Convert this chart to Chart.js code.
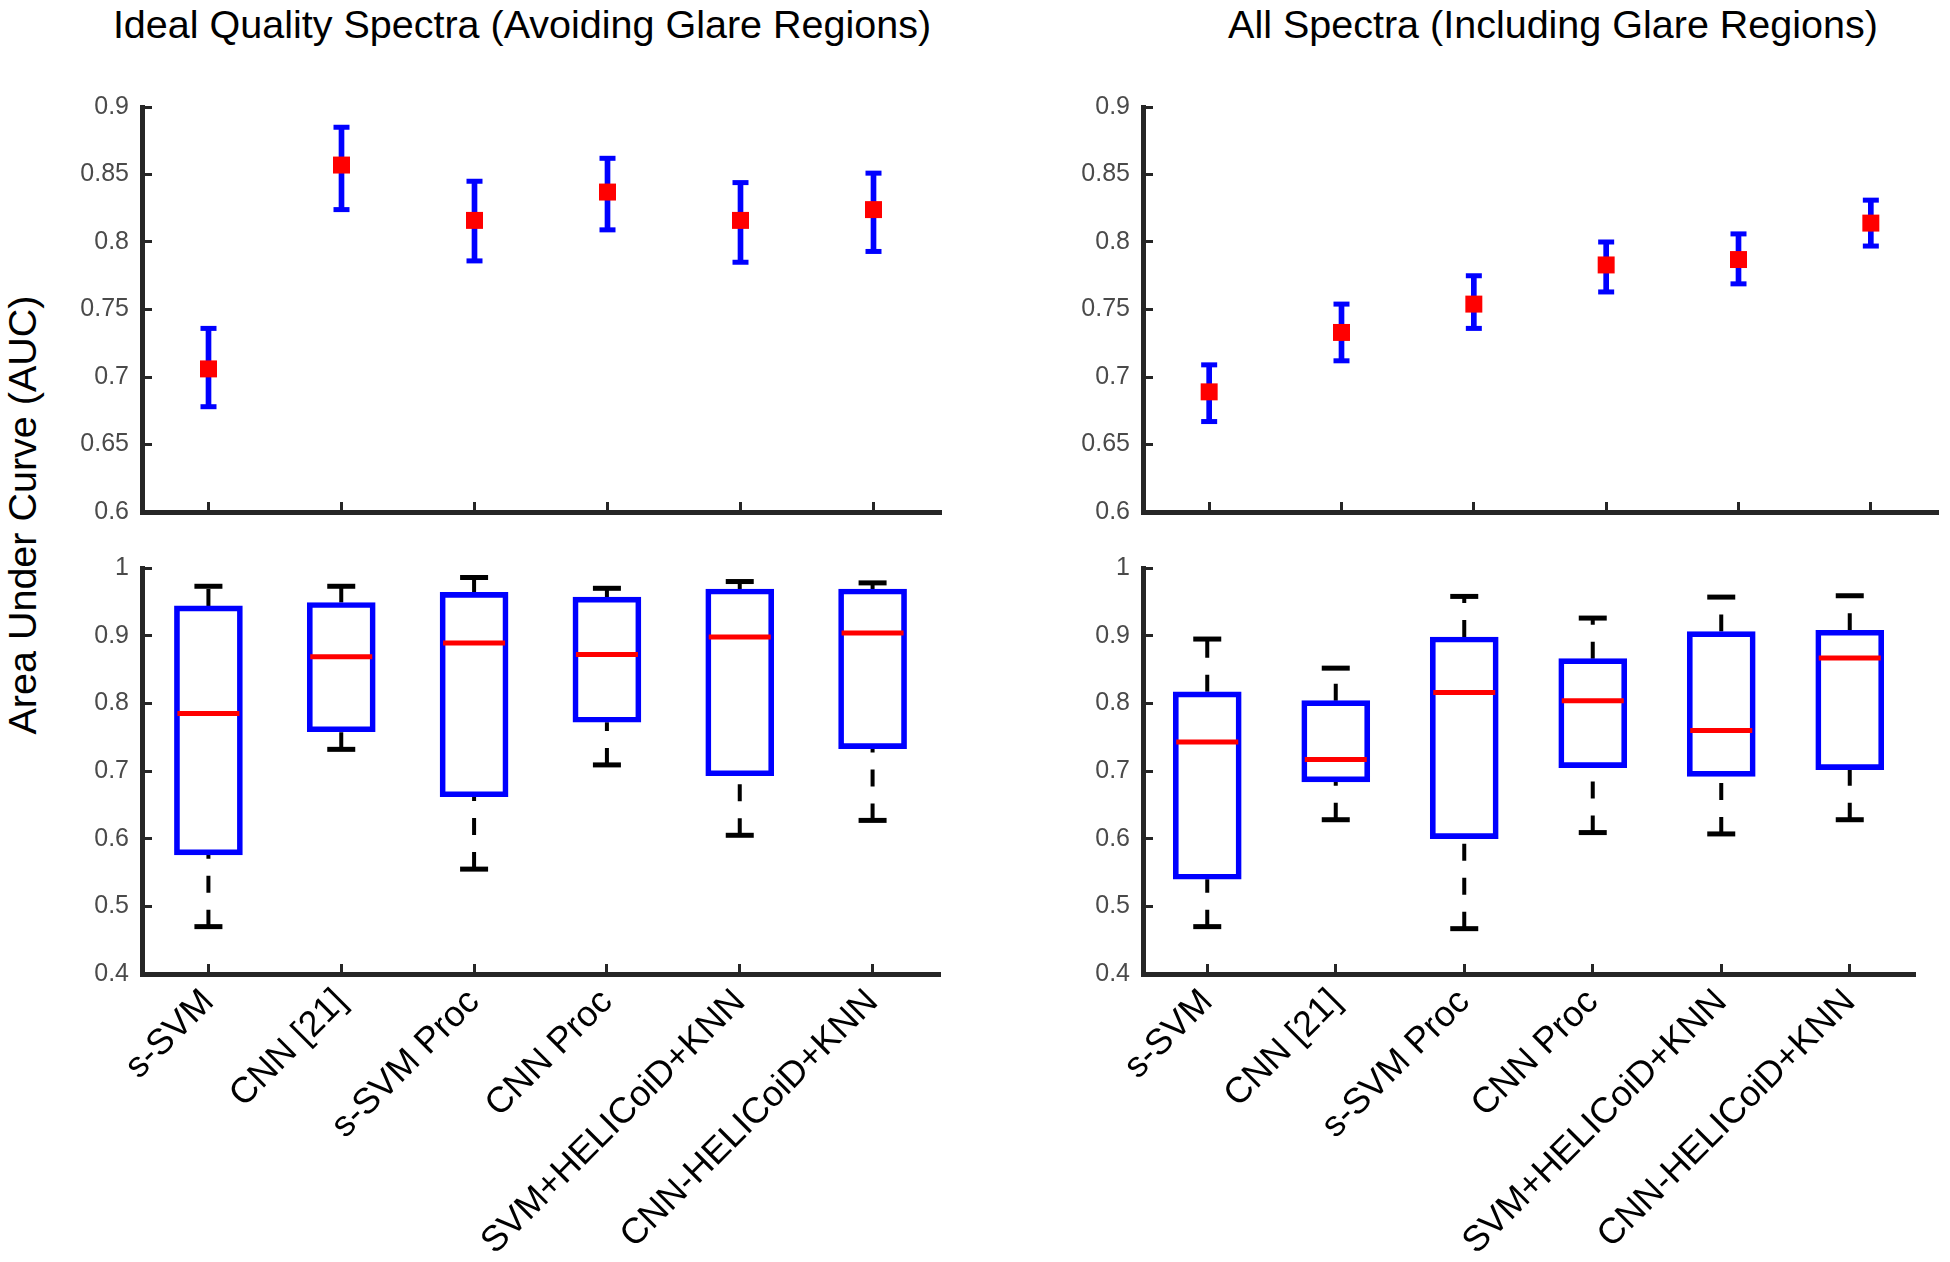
<!DOCTYPE html>
<html>
<head>
<meta charset="utf-8">
<script src="https://cdn.jsdelivr.net/npm/chart.js@4.4.1/dist/chart.umd.min.js"></script>
<style>
  html, body { margin: 0; padding: 0; background: #fff; }
  body { width: 1950px; height: 1262px; position: relative; overflow: hidden; font-family: 'Liberation Sans', Arial, sans-serif; }
  canvas { position: absolute; }
  .title { position: absolute; top: 5px; font-size: 39.5px; line-height: 1; color: #000; white-space: nowrap; transform: translateX(-50%); }
  #ytitle { position: absolute; left: 23px; top: 515px; font-size: 39.5px; line-height: 1; color: #000; white-space: nowrap; transform: translate(-50%, -50%) rotate(-90deg); }
</style>
</head>
<body>
<div class="title" style="left:522px">Ideal Quality Spectra (Avoiding Glare Regions)</div>
<div class="title" style="left:1553px">All Spectra (Including Glare Regions)</div>
<div id="ytitle">Area Under Curve (AUC)</div>
<canvas id="tl" width="975" height="500" style="left:0;top:60px"></canvas>
<canvas id="tr" width="975" height="500" style="left:975px;top:60px"></canvas>
<canvas id="bl" width="975" height="737" style="left:0;top:525px"></canvas>
<canvas id="br" width="975" height="737" style="left:975px;top:525px"></canvas>
<script>
const categories = ['s-SVM', 'CNN [21]', 's-SVM Proc', 'CNN Proc', 'SVM+HELICoiD+KNN', 'CNN-HELICoiD+KNN'];

// top row: mean AUC with error bars
const idealMean = [0.706, 0.857, 0.816, 0.837, 0.816, 0.824];
const idealLow  = [0.678, 0.824, 0.786, 0.809, 0.785, 0.793];
const idealHigh = [0.736, 0.885, 0.845, 0.862, 0.844, 0.851];

const allMean = [0.689, 0.733, 0.754, 0.783, 0.787, 0.814];
const allLow  = [0.667, 0.712, 0.736, 0.763, 0.769, 0.797];
const allHigh = [0.709, 0.754, 0.775, 0.800, 0.806, 0.831];

// bottom row: box plots
const idealMax    = [0.973, 0.973, 0.986, 0.970, 0.980, 0.978];
const idealQ3     = [0.944, 0.949, 0.964, 0.957, 0.969, 0.969];
const idealMedian = [0.785, 0.869, 0.889, 0.872, 0.898, 0.904];
const idealQ1     = [0.576, 0.758, 0.662, 0.772, 0.693, 0.733];
const idealMin    = [0.470, 0.732, 0.555, 0.709, 0.605, 0.627];

const allMax    = [0.895, 0.852, 0.958, 0.926, 0.957, 0.959];
const allQ3     = [0.817, 0.804, 0.898, 0.866, 0.906, 0.908];
const allMedian = [0.743, 0.717, 0.816, 0.804, 0.760, 0.867];
const allQ1     = [0.540, 0.684, 0.600, 0.705, 0.692, 0.702];
const allMin    = [0.470, 0.628, 0.467, 0.609, 0.607, 0.628];

const topTicks = [0.6, 0.65, 0.7, 0.75, 0.8, 0.85, 0.9];
const bottomTicks = [0.4, 0.5, 0.6, 0.7, 0.8, 0.9, 1];

const FONT = "'Liberation Sans', Arial, sans-serif";
const AXIS = '#262626';
const BLUE = '#0000ff';
const RED = '#ff0000';

// ticks point inwards: negative tick length
const gridOpts = { offset: false, drawOnChartArea: false, drawTicks: true, tickLength: -10, tickWidth: 3, tickColor: AXIS, lineWidth: 3 };
const borderOpts = { display: true, width: 5, color: AXIS };

function makeScales(ticks, showLabels, xHeight) {
  return {
    x: {
      type: 'category',
      offset: true,
      grid: gridOpts,
      border: borderOpts,
      ticks: { display: showLabels, autoSkip: false, minRotation: 45, maxRotation: 45, padding: 17, color: '#000', font: { family: FONT, size: 36 } },
      afterFit: s => { s.height = xHeight; }
    },
    y: {
      min: ticks[0],
      max: ticks[ticks.length - 1],
      afterBuildTicks: s => { s.ticks = ticks.map(v => ({ value: v })); },
      grid: gridOpts,
      border: borderOpts,
      ticks: { padding: 23, color: '#4a4a4a', font: { family: FONT, size: 25 }, callback: v => String(+v.toFixed(2)) },
      afterFit: s => { s.width = 100; }
    }
  };
}

function baseOptions(padding, scales) {
  return {
    responsive: false,
    animation: false,
    events: [],
    layout: { padding: padding },
    plugins: { legend: { display: false }, tooltip: { enabled: false } },
    scales: scales
  };
}

function errorPanel(id, mean, low, high, padLeft, padRight) {
  new Chart(document.getElementById(id), {
    type: 'bar',
    data: {
      labels: categories,
      datasets: [
        { type: 'line', data: mean, showLine: false, pointStyle: 'rect', pointRadius: 12,
          pointBackgroundColor: RED, pointBorderWidth: 0, order: 0 },
        { type: 'line', data: high, showLine: false, pointStyle: 'line', pointRadius: 8,
          pointBorderColor: BLUE, pointBorderWidth: 5, order: 1 },
        { type: 'line', data: low, showLine: false, pointStyle: 'line', pointRadius: 8,
          pointBorderColor: BLUE, pointBorderWidth: 5, order: 1 },
        { type: 'bar', data: low.map((v, i) => [v, high[i]]), backgroundColor: BLUE,
          barThickness: 5, order: 2 }
      ]
    },
    // chart area: top 107, bottom 512 on the page
    options: baseOptions({ left: padLeft, right: padRight, top: 47, bottom: 28 }, makeScales(topTicks, false, 20))
  });
}

function boxPanel(id, mn, q1, med, q3, mx, padLeft, padRight) {
  // whiskers drawn bottom-to-top so the dash phase starts at the lower end
  const whiskers = categories.flatMap((c, i) => [
    { x: c, y: q3[i] }, { x: c, y: mx[i] }, { x: c, y: null },
    { x: c, y: mn[i] }, { x: c, y: q1[i] }, { x: c, y: null }
  ]);
  const caps = categories.flatMap((c, i) => [{ x: c, y: mx[i] }, { x: c, y: mn[i] }]);
  new Chart(document.getElementById(id), {
    type: 'bar',
    data: {
      labels: categories,
      datasets: [
        { type: 'line', data: med, showLine: false, pointStyle: 'line', pointRadius: 31,
          pointBorderColor: RED, pointBorderWidth: 5, order: 0 },
        { type: 'bar', data: q1.map((v, i) => [v, q3[i]]), backgroundColor: 'rgba(0,0,0,0)',
          borderColor: BLUE, borderWidth: 5, borderSkipped: false, barThickness: 68, order: 1 },
        { type: 'line', data: whiskers, borderColor: '#000', borderWidth: 4, borderDash: [17, 17],
          pointRadius: 0, spanGaps: false, order: 2 },
        { type: 'line', data: caps, showLine: false, pointStyle: 'line', pointRadius: 14,
          pointBorderColor: '#000', pointBorderWidth: 5, order: 2 }
      ]
    },
    // chart area: top 568, bottom 974 on the page
    options: baseOptions({ left: padLeft, right: padRight, top: 43, bottom: 0 }, makeScales(bottomTicks, true, 288))
  });
}

errorPanel('tl', idealMean, idealLow, idealHigh, 42, 35);
errorPanel('tr', allMean, allLow, allHigh, 68, 10);
boxPanel('bl', idealMin, idealQ1, idealMedian, idealQ3, idealMax, 42, 35);
boxPanel('br', allMin, allQ1, allMedian, allQ3, allMax, 68, 10);
</script>
</body>
</html>
